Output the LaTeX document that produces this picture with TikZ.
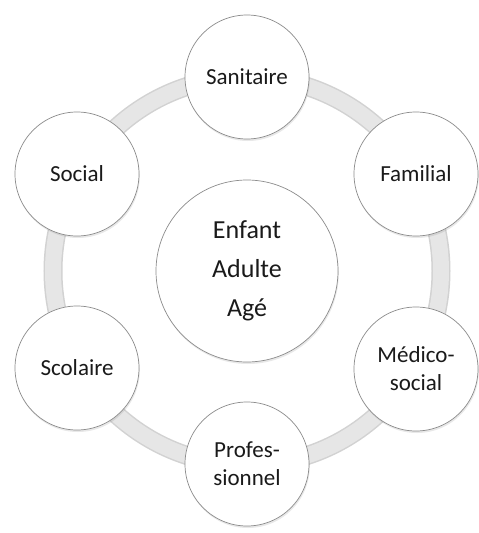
\documentclass[tikz,border=0pt]{standalone}
\usepackage{fontspec}
\setmainfont{Carlito}
\usetikzlibrary{shadows}
\definecolor{ringgray}{HTML}{E6E6E6}
\definecolor{ringedge}{HTML}{D2D2D2}
\definecolor{circedge}{HTML}{8C8C8C}
\definecolor{txt}{HTML}{1A1A1A}
\tikzset{
  bubble/.style={circle, draw=circedge, line width=0.7pt, fill=white, minimum size=124pt, inner sep=0pt, align=center, text=txt,
    font=\fontsize{23}{28}\selectfont,
    drop shadow={opacity=0.18, shadow xshift=0.8pt, shadow yshift=-2pt}},
  hub/.style={bubble, minimum size=182pt, font=\fontsize{26}{39}\selectfont},
}
\begin{document}
\begin{tikzpicture}[x=1pt,y=-1pt]
\useasboundingbox[fill=white] (0,0) rectangle (479,533);
\coordinate (c) at (247,271);
% ring
\draw[ringedge, line width=19pt] (c) circle[radius=194pt];
\draw[ringgray, line width=16pt] (c) circle[radius=194pt];
% nodes
\node[hub] (center) at (c) {Enfant\\Adulte\\Agé};
\node[bubble] (sanitaire) at (247,77) {Sanitaire};
\node[bubble] (familial) at (416,174) {Familial};
\node[bubble] (medico) at (416,369) {Médico-\\social};
\node[bubble] (pro) at (247,464) {Profes-\\sionnel};
\node[bubble] (scolaire) at (77,368) {Scolaire};
\node[bubble] (social) at (77,174) {Social};
\end{tikzpicture}
\end{document}
